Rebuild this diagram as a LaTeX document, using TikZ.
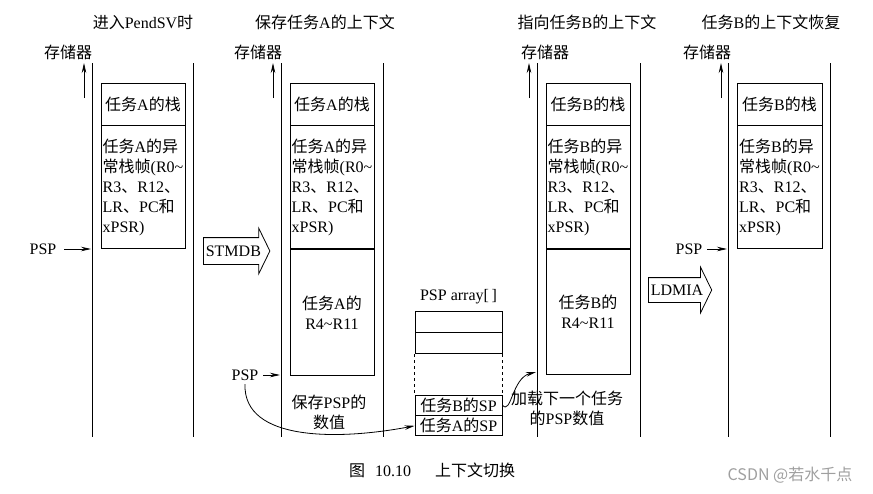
\documentclass[tikz,border=0pt]{standalone}
\usepackage{fontspec}
\setmainfont{Liberation Serif}
\newfontfamily\cjk{Noto Sans CJK SC}
\newcommand{\zh}[1]{{\cjk #1}}
\usetikzlibrary{positioning, arrows.meta, shapes.arrows}

\tikzset{
    cell/.style={draw, inner sep=0pt, minimum width=84pt},
    slot/.style={draw, inner sep=0pt, minimum width=87pt, minimum height=21pt},
    tip/.style={-{Stealth[length=10pt, width=4.5pt]}},
    bigarrow/.style={draw, single arrow, single arrow tip angle=128, single arrow head extend=9.5pt,
        text height=11pt, text depth=1pt, inner ysep=7pt, inner xsep=2pt, anchor=west},
}

\begin{document}
\begin{tikzpicture}[x=1pt, y=-1pt, font=\fontsize{16}{20}\selectfont, line width=0.8pt]
    \useasboundingbox (0, 0) rectangle (873, 493);

    % Column 1
    \node (title1) at (143, 22) {\zh{进入}PendSV\zh{时}};
    \node (mem1) at (68, 52) {\zh{存储器}};
    \draw[tip] (84, 98) -- (84, 63);
    \draw (92, 63) -- (92, 437);
    \draw (193, 63) -- (193, 437);
    \node[cell, minimum height=42pt] (stkA1) at (143, 104) {\zh{任务}A\zh{的栈}};
    \node[cell, minimum height=123pt, below=0pt of stkA1, align=left] (frmA1)
        {\zh{任务}A\zh{的异}\\\zh{常栈帧}(R0\textasciitilde\\R3\zh{、}R12\zh{、}\\LR\zh{、}PC\zh{和}\\xPSR)};
    \node (psp1) at (43, 249) {PSP};
    \coordinate (m1) at (91, 249);
    \draw[tip, shorten <=4pt] (psp1) -- (m1);

    % Column 2
    \node (title2) at (325, 22) {\zh{保存任务}A\zh{的上下文}};
    \node (mem2) at (258, 52) {\zh{存储器}};
    \draw[tip] (273, 98) -- (273, 63);
    \draw (281, 63) -- (281, 437);
    \draw (383, 63) -- (383, 437);
    \node[cell, minimum height=42pt] (stkA2) at (332, 104) {\zh{任务}A\zh{的栈}};
    \node[cell, minimum height=123pt, below=0pt of stkA2, align=left] (frmA2)
        {\zh{任务}A\zh{的异}\\\zh{常栈帧}(R0\textasciitilde\\R3\zh{、}R12\zh{、}\\LR\zh{、}PC\zh{和}\\xPSR)};
    \node[cell, minimum height=126pt, below=0pt of frmA2, align=center] (regA2)
        {\zh{任务}A\zh{的}\\R4\textasciitilde R11};
    \node[bigarrow] (stmdb) at (203, 251) {STMDB};
    \node (psp2) at (245, 375) {PSP};
    \coordinate (m2) at (280, 375);
    \draw[tip, shorten <=1pt] (psp2) -- (m2);
    \node[align=center] (save2) at (329, 412) {\zh{保存}PSP\zh{的}\\\zh{数值}};

    % PSP array
    \node[slot] (slot1) at (458.5, 321.5) {};
    \node[slot, below=0pt of slot1] (slot2) {};
    \node[slot, minimum height=20pt] (spB) at (458.5, 405) {\zh{任务}B\zh{的}SP};
    \node[slot, minimum height=20pt, below=0pt of spB] (spA) {\zh{任务}A\zh{的}SP};
    \draw[dashed] (slot2.south west) -- (spB.north west);
    \draw[dashed] (slot2.south east) -- (spB.north east);
    \node[above=3pt of slot1] (arrname) {PSP array[\,]};
    \draw[tip] (psp2.south) .. controls (243, 442) and (340, 440) .. (spA.west);

    % Column 3
    \node (title3) at (587, 22) {\zh{指向任务}B\zh{的上下文}};
    \node (mem3) at (545, 52) {\zh{存储器}};
    \draw[tip] (529, 98) -- (529, 63);
    \draw (537, 63) -- (537, 437);
    \draw (640, 63) -- (640, 437);
    \node[cell, minimum height=42pt] (stkB3) at (588, 104) {\zh{任务}B\zh{的栈}};
    \node[cell, minimum height=123pt, below=0pt of stkB3, align=left] (frmB3)
        {\zh{任务}B\zh{的异}\\\zh{常栈帧}(R0\textasciitilde\\R3\zh{、}R12\zh{、}\\LR\zh{、}PC\zh{和}\\xPSR)};
    \node[cell, minimum height=125pt, below=0pt of frmB3, align=center] (regB3)
        {\zh{任务}B\zh{的}\\R4\textasciitilde R11};
    \coordinate (m3) at (536, 372);
    \draw[tip] (spB.east) .. controls (511, 416) and (512, 378) .. (m3);
    \node[align=center] (load3) at (567, 408) {\zh{加载下一个任务}\\\zh{的}PSP\zh{数值}};

    % Column 4
    \node (title4) at (771, 22) {\zh{任务}B\zh{的上下文恢复}};
    \node (mem4) at (707, 52) {\zh{存储器}};
    \draw[tip] (721, 98) -- (721, 63);
    \draw (728, 63) -- (728, 437);
    \draw (830, 63) -- (830, 437);
    \node[cell, minimum height=42pt, minimum width=85pt] (stkB4) at (779.5, 104) {\zh{任务}B\zh{的栈}};
    \node[cell, minimum height=123pt, minimum width=85pt, below=0pt of stkB4, align=left] (frmB4)
        {\zh{任务}B\zh{的异}\\\zh{常栈帧}(R0\textasciitilde\\R3\zh{、}R12\zh{、}\\LR\zh{、}PC\zh{和}\\xPSR)};
    \node[bigarrow, inner ysep=6pt, single arrow head extend=10.5pt] (ldmia) at (648, 290) {LDMIA};
    \node (psp4) at (689, 249) {PSP};
    \coordinate (m4) at (727, 249);
    \draw[tip, shorten <=1pt] (psp4) -- (m4);

    % Caption
    \node (cap) at (432, 470) {\zh{图}\hspace{10pt}10.10\hspace{24pt}\zh{上下文切换}};
    \node[text=gray!75] (mark) at (790, 475) {\cjk CSDN @若水千点};
\end{tikzpicture}
\end{document}
